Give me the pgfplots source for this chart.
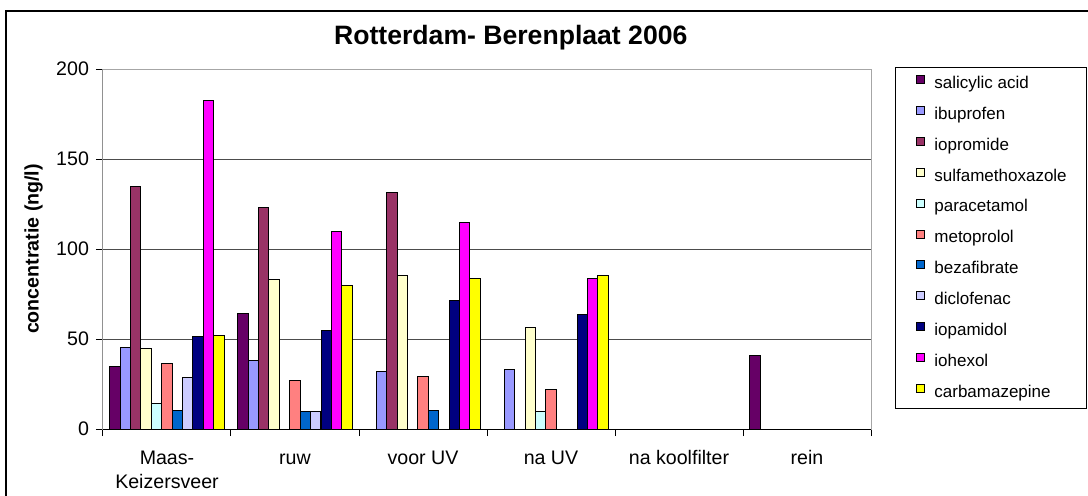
\documentclass[border=0pt]{standalone}
\usepackage{fontspec}
\setmainfont{Liberation Sans}
\usepackage{pgfplots}
\pgfplotsset{compat=1.18}

% Excel default palette
\definecolor{cSal}{HTML}{660066}
\definecolor{cIbu}{HTML}{9999FF}
\definecolor{cIopr}{HTML}{993366}
\definecolor{cSulf}{HTML}{FFFFCC}
\definecolor{cPara}{HTML}{CCFFFF}
\definecolor{cMeto}{HTML}{FF8080}
\definecolor{cBeza}{HTML}{0066CC}
\definecolor{cDicl}{HTML}{CCCCFF}
\definecolor{cIopa}{HTML}{000080}
\definecolor{cIohe}{HTML}{FF00FF}
\definecolor{cCarb}{HTML}{FFFF00}

\newcommand\axfont{\fontsize{9.8pt}{12pt}\selectfont}
% two-line category label, baseline on its first line
\newcommand\maas{\begin{tabular}[t]{@{}c@{}}Maas-\\Keizersveer\end{tabular}}

\begin{document}
\begin{tikzpicture}
\useasboundingbox (0,0) rectangle (544pt,-247.5pt);
% chart area border (cut off at right and bottom)
\draw[line width=0.6pt] (3pt,-300pt) -- (3pt,-5.5pt) -- (600pt,-5.5pt);

\begin{axis}[
    at={(51.5pt,-214.5pt)}, anchor=south west,
    scale only axis,
    width=384pt, height=180pt,
    xmin=0, xmax=6,
    ymin=0, ymax=200,
    ybar=0pt, bar width=5.2pt,
    xtick={0,1,...,6},
    x tick label as interval,
    xticklabels={{\maas},ruw,voor UV,na UV,na koolfilter,rein},
    xticklabel style={font=\axfont, anchor=base, yshift=-14pt},
    ytick={0,50,...,200},
    yticklabel style={font=\axfont},
    /pgf/number format/assume math mode=true,
    tick pos=left,
    tick align=outside,
    major tick length=3.5pt,
    tick style={black, line width=0.5pt},
    ymajorgrids,
    major grid style={black!70, line width=0.5pt},
    axis line style={gray!70, line width=0.5pt},
    title={Rotterdam- Berenplaat 2006},
    title style={at={(axis description cs:0.531,1.036)}, anchor=base,
        font=\bfseries\fontsize{13.3pt}{16pt}\selectfont},
    ylabel={concentratie (ng/l)},
    ylabel style={at={(axis description cs:-0.0905,0.5)}, anchor=center,
        font=\bfseries\axfont},
    legend style={at={(axis description cs:1.03125,1.0056)}, anchor=north west,
        draw=black, line width=0.5pt, inner xsep=10pt, inner ysep=3.75pt,
        row sep=6.8pt, column sep=0pt,
        font=\fontsize{8.5pt}{10pt}\selectfont,
        nodes={inner xsep=0pt, inner ysep=0pt, text height=6.5pt, text depth=2pt}},
    legend cell align=left,
    legend image code/.code={\draw[#1, line width=0.4pt] (0pt,0.2pt) rectangle (4pt,4.2pt); \path (9pt,0pt);},
    every axis plot/.append style={draw=black, line width=0.5pt},
]

\addplot[fill=cSal] coordinates {(0.5,35) (1.5,64) (5.5,41)};
\addlegendentry{salicylic acid}
\addplot[fill=cIbu] coordinates {(0.5,45.5) (1.5,38) (2.5,32) (3.5,33)};
\addlegendentry{ibuprofen}
\addplot[fill=cIopr] coordinates {(0.5,135) (1.5,123) (2.5,131.5)};
\addlegendentry{iopromide}
\addplot[fill=cSulf] coordinates {(0.5,44.5) (1.5,83) (2.5,85.5) (3.5,56.5)};
\addlegendentry{sulfamethoxazole}
\addplot[fill=cPara] coordinates {(0.5,14) (3.5,10)};
\addlegendentry{paracetamol}
\addplot[fill=cMeto] coordinates {(0.5,36.5) (1.5,27) (2.5,29) (3.5,22)};
\addlegendentry{metoprolol}
\addplot[fill=cBeza] coordinates {(0.5,10.5) (1.5,10) (2.5,10.5)};
\addlegendentry{bezafibrate}
\addplot[fill=cDicl] coordinates {(0.5,28.5) (1.5,10)};
\addlegendentry{diclofenac}
\addplot[fill=cIopa] coordinates {(0.5,51.5) (1.5,54.5) (2.5,71.5) (3.5,63.5)};
\addlegendentry{iopamidol}
\addplot[fill=cIohe] coordinates {(0.5,182.5) (1.5,109.5) (2.5,114.5) (3.5,83.5)};
\addlegendentry{iohexol}
\addplot[fill=cCarb] coordinates {(0.5,52) (1.5,79.5) (2.5,83.5) (3.5,85.5)};
\addlegendentry{carbamazepine}

% black value and category axes over the grey plot-area border
\draw[black, line width=0.5pt] (rel axis cs:0,1) -- (rel axis cs:0,0) -- (rel axis cs:1,0);
\end{axis}
\end{tikzpicture}
\end{document}
